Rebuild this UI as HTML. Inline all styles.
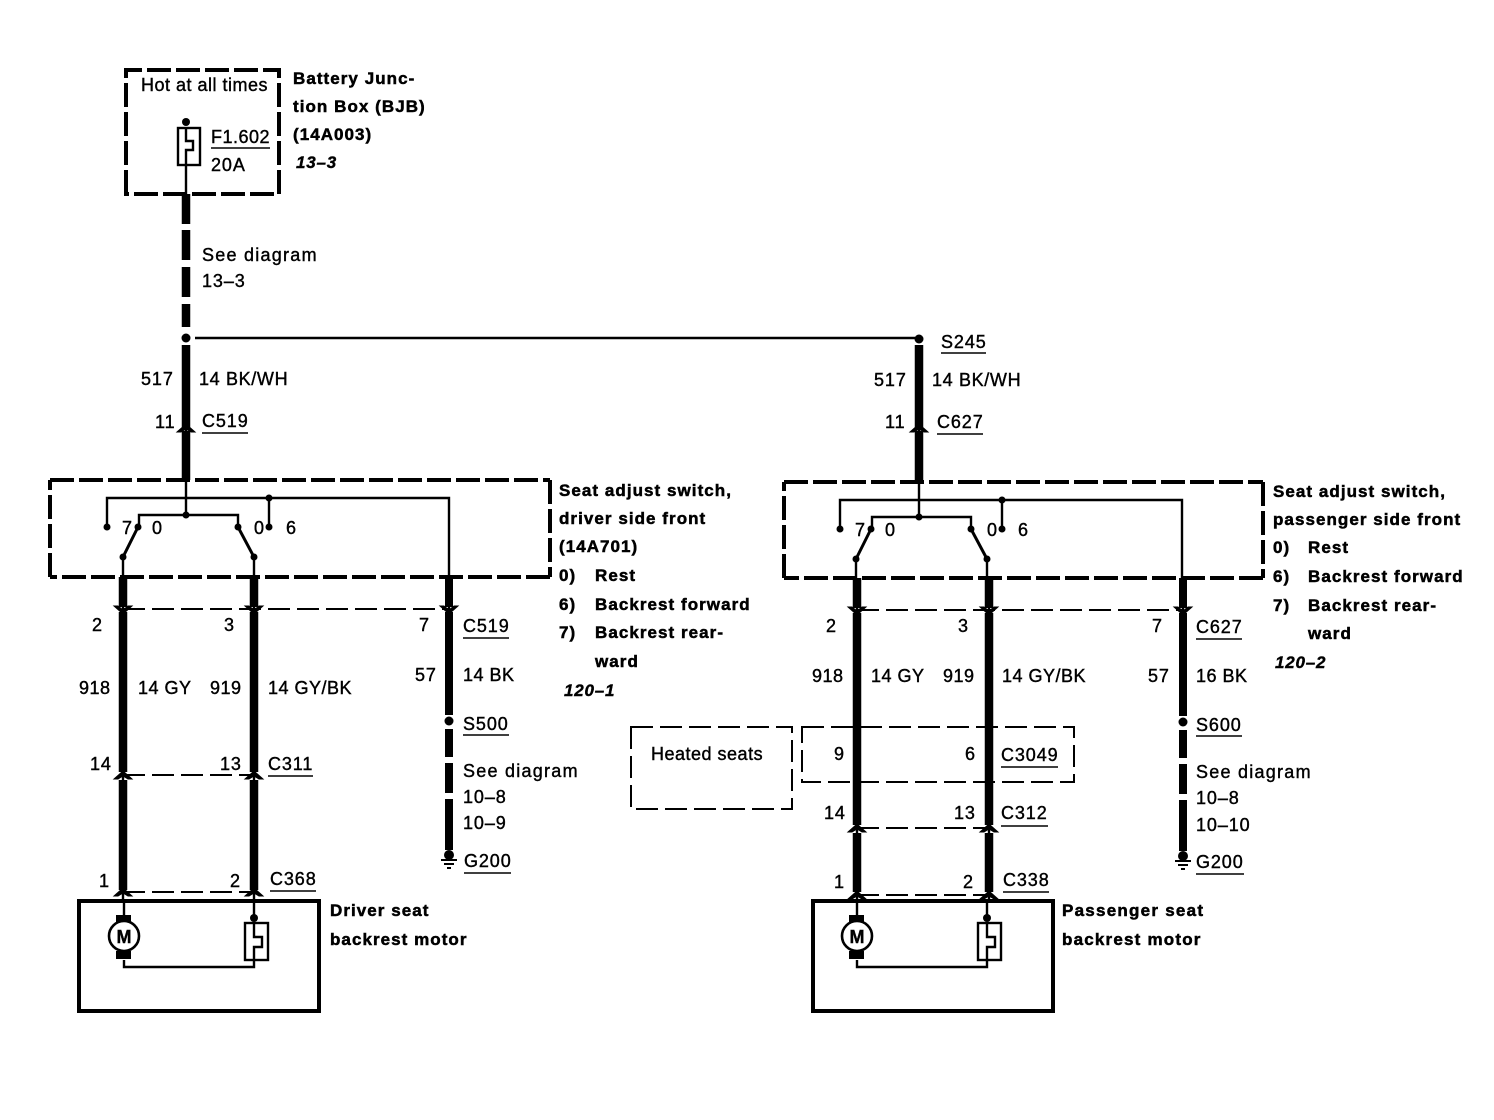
<!DOCTYPE html>
<html><head><meta charset="utf-8"><style>
html,body{margin:0;padding:0;background:#fff}
svg{display:block}
text{font-family:"Liberation Sans",sans-serif;font-size:18px;letter-spacing:.9px;fill:#000;stroke:#000;stroke-width:.4px}
.b{font-weight:bold;font-size:17px;letter-spacing:1.05px;stroke-width:.5px}
.i{font-weight:bold;font-style:italic;font-size:17px;letter-spacing:.8px;stroke-width:.4px}
.m{font-weight:bold;font-size:18px;letter-spacing:0;text-anchor:middle}
.n{letter-spacing:.5px}
.s{letter-spacing:1.25px}
.t{stroke:#000;stroke-width:2.4;fill:none}
.w{stroke:#000;stroke-width:8.5;fill:none}
.d{stroke:#000;stroke-width:4;fill:none;stroke-dasharray:24 5}
.c{stroke:#000;stroke-width:2;fill:none;stroke-dasharray:22 7}
.u{stroke:#000;stroke-width:1.6;fill:none}
</style></head><body>
<svg width="1494" height="1120" viewBox="0 0 1494 1120" xmlns="http://www.w3.org/2000/svg">
<defs>
<path id="up" d="M-9 5L0 -3L9 5L5 5L0 2L-5 5Z" fill="#000" stroke="#000" stroke-width="1"/>
<path id="dn" d="M-9 -3L0 5L9 -3L5 -3L0 1L-5 -3Z" fill="#000" stroke="#000" stroke-width="1"/>
<g id="sw">
<path class="t" d="M186 480V515M107 527V498H449V577M269 498V527M186 515H139V527M186 515H238V527"/>
<path d="M138 527L123 557M238 527L254 557" stroke="#000" stroke-width="3"/>
<path class="t" d="M123 557V577M254 557V577"/>
<circle cx="186" cy="515" r="3.5"/><circle cx="269" cy="498" r="3.5"/><circle cx="107" cy="527" r="3.5"/><circle cx="269" cy="527" r="3.5"/>
<circle cx="138" cy="527" r="3.5"/><circle cx="238" cy="527" r="3.5"/><circle cx="123" cy="557" r="3.5"/><circle cx="254" cy="557" r="3.5"/>
</g>
<g id="mot">
<path class="t" d="M124 901V915M124 960V967H254V960M254 901V918"/>
<circle cx="124" cy="936" r="15" fill="#fff" stroke="#000" stroke-width="2.6"/>
<rect x="116" y="915" width="15" height="7"/><rect x="116" y="951" width="15" height="8"/>
<circle cx="254" cy="918" r="4"/>
<rect x="245" y="923" width="23" height="37" fill="#fff" stroke="#000" stroke-width="2.4"/>
<path class="t" d="M254 923V937H262V947H254V960"/>
</g>
<path id="gnd" d="M-8 0H8M-5 4H5M-2 8H2" stroke="#000" stroke-width="2" fill="none"/>
</defs>

<!-- BJB -->
<path class="d" d="M126 194V70H279V194Z" stroke-dasharray="21 6"/>
<circle cx="186" cy="122" r="4"/>
<rect x="178" y="128" width="22" height="37" fill="#fff" stroke="#000" stroke-width="2.4"/>
<path class="t" d="M186 128V141H193V150H186V194"/>
<path class="w" d="M186 194V224M186 230V260M186 267V297M186 304V327M186 345V427M186 431V480"/>
<path class="t" d="M186 425V435M919 425V435"/>
<circle cx="186" cy="338" r="4.5"/>
<path class="t" d="M195 338H915"/>
<circle cx="919" cy="339" r="4.5"/>
<path class="w" d="M919 345V427M919 431V482"/>
<use href="#up" x="186" y="427"/><use href="#up" x="919" y="427"/>

<!-- switches -->
<path class="d" d="M50 480H550M550 480V577M550 577H50M50 577V480" stroke-dasharray="22 7"/>
<path class="d" d="M784 482H1263M1263 482V578M1263 578H784M784 578V482" stroke-dasharray="22 7"/>
<use href="#sw"/><use href="#sw" x="733" y="2"/>

<!-- left wires -->
<path class="w" d="M123 577V607M123 612V772M123 780V890M254 577V607M254 612V772M254 780V890"/>
<path class="t" d="M123 605V615M254 605V615M449 605V615M123 770V782M254 770V782M123 888V901M254 888V901"/>
<path d="M449 577V607M449 612V715M449 729V757M449 763V793M449 799V850" stroke="#000" stroke-width="8" fill="none"/>
<path class="c" d="M123 609H449"/>
<path class="c" d="M123 775H254"/>
<path class="c" d="M123 892H254"/>
<use href="#dn" x="123" y="609"/><use href="#dn" x="254" y="609"/><use href="#dn" x="449" y="609"/>
<use href="#up" x="123" y="774"/><use href="#up" x="254" y="774"/>
<use href="#up" x="123" y="891"/><use href="#up" x="254" y="891"/>
<circle cx="449" cy="721" r="4.5"/>
<circle cx="449" cy="855" r="5"/><use href="#gnd" x="449" y="860"/>

<!-- right wires -->
<path class="w" d="M857 578V608M857 613V825M857 833V892M989 578V608M989 613V825M989 833V892"/>
<path class="t" d="M857 606V616M989 606V616M1183 606V616M857 823V835M989 823V835M857 890V901M989 890V901"/>
<path d="M1183 578V608M1183 613V716M1183 730V758M1183 764V794M1183 800V851" stroke="#000" stroke-width="8" fill="none"/>
<path class="c" d="M857 610H1183"/>
<path class="c" d="M857 828H989"/>
<path class="c" d="M857 895H989"/>
<use href="#dn" x="857" y="610"/><use href="#dn" x="989" y="610"/><use href="#dn" x="1183" y="610"/>
<use href="#up" x="857" y="827"/><use href="#up" x="989" y="827"/>
<use href="#up" x="857" y="894"/><use href="#up" x="989" y="894"/>
<circle cx="1183" cy="722" r="4.5"/>
<circle cx="1183" cy="856" r="5"/><use href="#gnd" x="1183" y="861"/>

<!-- dashed boxes -->
<path class="c" d="M631 727H792V809H631Z" stroke-dasharray="20 9"/>
<path class="c" d="M802 727H1074V782H802Z" stroke-dasharray="22 8"/>

<!-- motor boxes -->
<rect x="79" y="901" width="240" height="110" fill="none" stroke="#000" stroke-width="4"/>
<rect x="813" y="901" width="240" height="110" fill="none" stroke="#000" stroke-width="4"/>
<use href="#mot"/><use href="#mot" x="733"/>
<text class="m" x="124" y="943">M</text>
<text class="m" x="857" y="943">M</text>

<!-- underlines -->
<path class="u" d="M211 148H270M941 353H986M202 433H248M937 434H983M463 638H509M1196 639H1242M463 735H509M1196 736H1242M464 873H511M1196 874H1244M268 776H313M270 891H316M1001 767H1058M1001 826H1048M1003 892H1049"/>

<!-- texts -->
<text class="n" x="141" y="91">Hot at all times</text>
<text class="n" x="211" y="143">F1.602</text>
<text x="211" y="171">20A</text>
<text class="b" x="293" y="84">Battery Junc-</text>
<text class="b" x="293" y="112">tion Box (BJB)</text>
<text class="b" x="293" y="140">(14A003)</text>
<text class="i" x="296" y="168">13–3</text>
<text class="s" x="202" y="261">See diagram</text>
<text x="202" y="287">13–3</text>
<text x="141" y="385">517</text>
<text class="n" x="199" y="385" style="letter-spacing:.65px">14 BK/WH</text>
<text x="155" y="428">11</text>
<text x="202" y="427">C519</text>
<text x="122" y="534">7</text><text x="152" y="534">0</text><text x="254" y="534">0</text><text x="286" y="534">6</text>
<text class="b" x="559" y="496">Seat adjust switch,</text>
<text class="b" x="559" y="524">driver side front</text>
<text class="b" x="559" y="552">(14A701)</text>
<text class="b" x="559" y="581">0)</text><text class="b" x="595" y="581">Rest</text>
<text class="b" x="559" y="610">6)</text><text class="b" x="595" y="610">Backrest forward</text>
<text class="b" x="559" y="638">7)</text><text class="b" x="595" y="638">Backrest rear-</text>
<text class="b" x="595" y="667">ward</text>
<text class="i" x="564" y="696">120–1</text>
<text x="92" y="631">2</text><text x="224" y="631">3</text><text x="419" y="631">7</text><text x="463" y="632">C519</text>
<text x="79" y="694" class="n">918</text><text class="n" x="138" y="694">14 GY</text><text class="n" x="210" y="694">919</text><text class="n" x="268" y="694">14 GY/BK</text><text x="415" y="681">57</text><text class="n" x="463" y="681">14 BK</text>
<text x="463" y="730">S500</text>
<text class="s" x="463" y="777">See diagram</text>
<text x="463" y="803">10–8</text>
<text x="463" y="829">10–9</text>
<text x="464" y="867">G200</text>
<text x="90" y="770">14</text><text x="220" y="770">13</text><text x="268" y="770">C311</text>
<text x="99" y="887">1</text><text x="230" y="887">2</text><text x="270" y="885">C368</text>
<text class="b" x="330" y="916">Driver seat</text>
<text class="b" x="330" y="945">backrest motor</text>

<text x="941" y="348">S245</text>
<text x="874" y="386">517</text>
<text class="n" x="932" y="386" style="letter-spacing:.65px">14 BK/WH</text>
<text x="885" y="428">11</text>
<text x="937" y="428">C627</text>
<text x="855" y="536">7</text><text x="885" y="536">0</text><text x="987" y="536">0</text><text x="1018" y="536">6</text>
<text class="b" x="1273" y="497">Seat adjust switch,</text>
<text class="b" x="1273" y="525">passenger side front</text>
<text class="b" x="1273" y="553">0)</text><text class="b" x="1308" y="553">Rest</text>
<text class="b" x="1273" y="582">6)</text><text class="b" x="1308" y="582">Backrest forward</text>
<text class="b" x="1273" y="611">7)</text><text class="b" x="1308" y="611">Backrest rear-</text>
<text class="b" x="1308" y="639">ward</text>
<text class="i" x="1275" y="668">120–2</text>
<text x="826" y="632">2</text><text x="958" y="632">3</text><text x="1152" y="632">7</text><text x="1196" y="633">C627</text>
<text class="n" x="812" y="682">918</text><text class="n" x="871" y="682">14 GY</text><text class="n" x="943" y="682">919</text><text class="n" x="1002" y="682">14 GY/BK</text><text x="1148" y="682">57</text><text class="n" x="1196" y="682">16 BK</text>
<text x="1196" y="731">S600</text>
<text class="s" x="1196" y="778">See diagram</text>
<text x="1196" y="804">10–8</text>
<text x="1196" y="831">10–10</text>
<text x="1196" y="868">G200</text>
<text class="n" x="651" y="760">Heated seats</text>
<text x="834" y="760">9</text><text x="965" y="760">6</text><text x="1001" y="761">C3049</text>
<text x="824" y="819">14</text><text x="954" y="819">13</text><text x="1001" y="819">C312</text>
<text x="834" y="888">1</text><text x="963" y="888">2</text><text x="1003" y="886">C338</text>
<text class="b" x="1062" y="916" style="letter-spacing:1.25px">Passenger seat</text>
<text class="b" x="1062" y="945" style="letter-spacing:1.2px">backrest motor</text>
</svg>
</body></html>
